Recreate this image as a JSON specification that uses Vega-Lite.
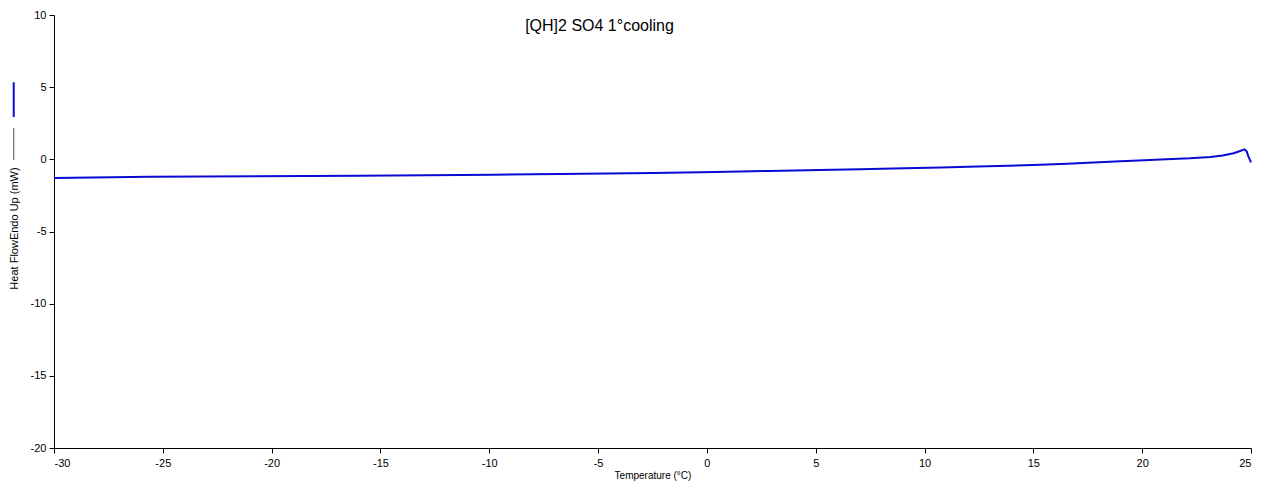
{
  "$schema": "https://vega.github.io/schema/vega-lite/v6.json",
  "width": 1197,
  "height": 433,
  "autosize": {"type": "none"},
  "padding": {"left": 54, "top": 15, "right": 19, "bottom": 40},
  "background": "white",
  "config": {
    "view": {"stroke": null},
    "font": "Liberation Sans",
    "axis": {"grid": false, "domainColor": "#000000", "tickColor": "#000000", "labelColor": "#000000", "titleColor": "#000000", "labelFont": "Liberation Sans", "titleFont": "Liberation Sans", "titleFontWeight": "normal", "labelFontSize": 11, "titleFontSize": 10, "tickSize": 5, "labelExpr": "replace(datum.label, '−', '-')"}
  },
  "title": {"text": "[QH]2 SO4 1°cooling", "font": "Liberation Sans", "fontSize": 16, "fontWeight": "normal", "color": "#000000", "anchor": "middle", "frame": "group", "baseline": "top", "orient": "top", "offset": 0, "dy": 25, "dx": -53},
  "datasets": {
    "curve": [
      {"temp": -30.0, "hf": -1.30},
      {"temp": -25.6, "hf": -1.21},
      {"temp": -16.0, "hf": -1.14},
      {"temp": -9.83, "hf": -1.06},
      {"temp": -5.65, "hf": -1.00},
      {"temp": -2.47, "hf": -0.94},
      {"temp": 0.38, "hf": -0.88},
      {"temp": 2.91, "hf": -0.80},
      {"temp": 5.16, "hf": -0.74},
      {"temp": 7.05, "hf": -0.68},
      {"temp": 9.07, "hf": -0.62},
      {"temp": 10.77, "hf": -0.57},
      {"temp": 12.43, "hf": -0.50},
      {"temp": 13.85, "hf": -0.45},
      {"temp": 15.32, "hf": -0.37},
      {"temp": 16.56, "hf": -0.30},
      {"temp": 17.76, "hf": -0.22},
      {"temp": 19.0, "hf": -0.13},
      {"temp": 20.1, "hf": -0.06},
      {"temp": 21.11, "hf": 0.0},
      {"temp": 22.2, "hf": 0.07},
      {"temp": 23.14, "hf": 0.17},
      {"temp": 23.7, "hf": 0.26},
      {"temp": 24.2, "hf": 0.42},
      {"temp": 24.5, "hf": 0.58},
      {"temp": 24.7, "hf": 0.69},
      {"temp": 24.8, "hf": 0.55},
      {"temp": 24.88, "hf": 0.2},
      {"temp": 25.0, "hf": -0.21}
    ]
  },
  "layer": [
    {
      "data": {"name": "curve"},
      "mark": {"type": "line", "color": "#0a0ad2", "strokeWidth": 2, "interpolate": "linear"},
      "encoding": {
        "x": {"field": "temp", "type": "quantitative", "scale": {"domain": [-30, 25], "nice": false, "zero": false}, "axis": {"values": [-30, -25, -20, -15, -10, -5, 0, 5, 10, 15, 20, 25], "title": "Temperature (°C)", "labelPadding": 4, "titlePadding": 2}},
        "y": {"field": "hf", "type": "quantitative", "scale": {"domain": [-20, 10], "nice": false, "zero": false}, "axis": {"values": [-20, -15, -10, -5, 0, 5, 10], "title": "Heat FlowEndo Up (mW)", "titleFontSize": 11, "titleAngle": 270, "titleAlign": "center", "titleBaseline": "middle", "titleX": -40, "titleY": 213, "labelPadding": 3}}
      }
    },
    {
      "data": {"values": [{"k": 1}]},
      "mark": {"type": "rule", "color": "#505050", "strokeWidth": 1, "clip": false},
      "encoding": {"x": {"datum": -31.85}, "y": {"datum": 2.17}, "y2": {"datum": -0.05}}
    },
    {
      "data": {"values": [{"k": 1}]},
      "mark": {"type": "rule", "color": "#0a0ad2", "strokeWidth": 2, "clip": false},
      "encoding": {"x": {"datum": -31.85}, "y": {"datum": 5.34}, "y2": {"datum": 2.93}}
    }
  ]
}
